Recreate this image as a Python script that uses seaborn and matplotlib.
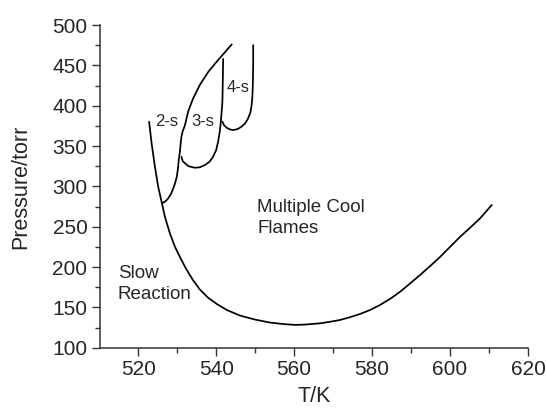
import numpy as np
import pandas as pd
import seaborn as sns
import matplotlib
matplotlib.use("Agg")
import matplotlib.pyplot as plt
from matplotlib.ticker import MultipleLocator

# Main boundary (slow reaction / cool flames)
main_T = [522.8, 523.44, 524.29, 525.13, 526.0, 526.85, 528.13, 529.42, 530.88,
          532.24, 534.04, 535.83, 537.88, 540.2, 542.76, 546.1, 549.95, 553.8,
          557.1, 560.2, 562.5, 566.6, 569.0, 571.7, 574.3, 576.9, 579.5, 582.0,
          584.6, 587.2, 589.7, 592.3, 594.9, 597.5, 600.0, 602.6, 605.2, 607.7, 610.7]
main_P = [380.1, 353.4, 324.3, 299.6, 280.9, 262.4, 241.8, 225.2, 210.8,
          198.2, 183.9, 172.1, 162.2, 154.1, 146.7, 139.9, 134.9, 131.2,
          129.4, 128.3, 128.6, 130.2, 132, 134.3, 137.8, 141.8, 146.8, 152.9,
          160.5, 169.4, 179.5, 190.1, 201.3, 212.8, 225, 237.6, 249, 260.4, 276.9]

# 2-stage boundary
s2_T = [526.3, 527.0, 527.7, 528.4, 529.0, 529.5, 529.9, 530.2, 530.4, 530.7, 530.9,
        531.1, 531.4, 532.0, 532.8, 534.1, 535.8, 538.0, 540.5, 542.2, 544.0]
s2_P = [279.5, 281.5, 285.2, 290.5, 297.6, 304.5, 312, 322, 332.7, 343, 353.4,
        362, 368, 376, 392.5, 409.1, 425.6, 442.1, 456.6, 466, 476]

# 3-stage boundary
s3_T = [531.1, 531.4, 532.0, 532.9, 534.5, 535.8, 537.1, 538.3, 539.2, 540.0, 540.5,
        540.9, 541.2, 541.4, 541.6, 541.7, 541.8]
s3_P = [336.7, 331.5, 328.6, 325, 323.1, 323.6, 326.4, 330.5, 336.7, 345, 355.4,
        367, 380.2, 392, 404.9, 430, 457.9]

# 4-stage boundary
s4_T = [541.6, 542.0, 542.7, 543.5, 544.4, 545.5, 546.5, 547.5, 548.2, 548.8, 549.1,
        549.3, 549.4, 549.5, 549.5]
s4_P = [380.2, 376, 372.7, 370.6, 369.8, 371, 373.9, 378.5, 384.3, 392, 400.8,
        412, 425.6, 450, 475]

curves = {"main": (main_T, main_P), "2-s": (s2_T, s2_P),
          "3-s": (s3_T, s3_P), "4-s": (s4_T, s4_P)}

sns.set_style("ticks")
plt.rcParams['font.family'] = ['Liberation Sans', 'DejaVu Sans']
plt.rcParams['xtick.direction'] = 'out'
plt.rcParams['ytick.direction'] = 'out'

fig = plt.figure(figsize=(5.47, 4.12), dpi=100)
ax = fig.add_axes([0.1828, 0.156, 0.9653 - 0.1828, 0.9393 - 0.156])

for name, (T, P) in curves.items():
    df = pd.DataFrame({"T": T, "P": P})
    sns.lineplot(data=df, x="T", y="P", sort=False, color="black", lw=1.25, ax=ax,
                 estimator=None)

ax.set_xlim(510.2, 620)
ax.set_ylim(100, 500)
ax.xaxis.set_major_locator(MultipleLocator(20))
ax.xaxis.set_minor_locator(MultipleLocator(10))
ax.yaxis.set_major_locator(MultipleLocator(50))
ax.yaxis.set_minor_locator(MultipleLocator(25))
ax.tick_params(axis='both', which='major', length=6, width=1, labelsize=15, color='#333333', pad=3)
ax.tick_params(axis='both', which='minor', length=3.5, width=1, color='#333333')
for s in ['left', 'bottom']:
    ax.spines[s].set_color('#333333')
    ax.spines[s].set_linewidth(1.1)
sns.despine(ax=ax)

ax.set_xlabel("T/K", fontsize=15.5, labelpad=5)
ax.set_ylabel("Pressure/torr", fontsize=15.5, labelpad=15)

ax.text(527.3, 380, "2-s", fontsize=12, ha='center', va='center')
ax.text(536.5, 380, "3-s", fontsize=12, ha='center', va='center')
ax.text(545.7, 423, "4-s", fontsize=12, ha='center', va='center')
ax.text(550.5, 261, "Multiple Cool\nFlames", fontsize=13.5, ha='left', va='center', linespacing=1.3)
ax.text(514.8, 179, "Slow\nReaction", fontsize=13.5, ha='left', va='center', linespacing=1.35)

fig.savefig("out.png", dpi=100)
